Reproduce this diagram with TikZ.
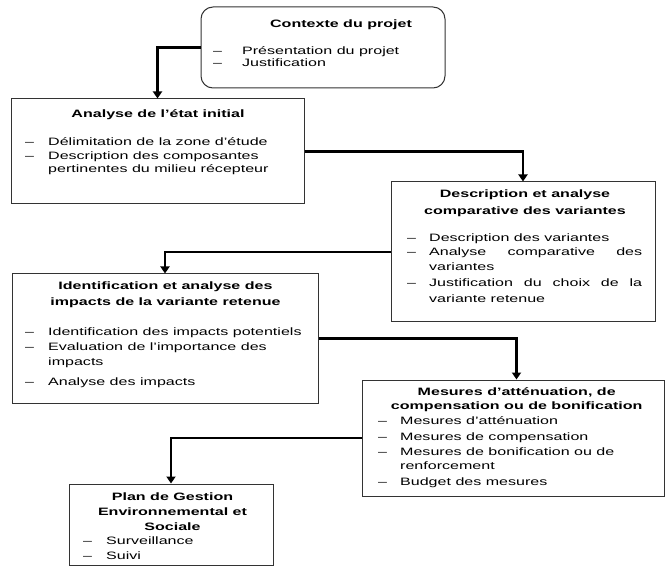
\documentclass[tikz,border=0pt]{standalone}
\usepackage{fontspec}
\setmainfont{Liberation Sans}[FakeStretch=1.5]
\usetikzlibrary{arrows.meta}
\begin{document}
\begin{tikzpicture}[x=1pt,y=-1pt,
  box/.style={draw=black!80, line width=1pt, inner sep=0pt, fill=white},
  txt/.style={inner sep=0pt, font=\fontsize{10.7}{13}\selectfont},
  ttl/.style={txt, anchor=mid, font=\fontsize{10.7}{13}\selectfont\bfseries},
  itm/.style={txt, anchor=mid west},
  conn/.style={line width=2.6pt, line join=miter, -{Triangle[width=9pt,length=7pt]}}]
\useasboundingbox (0,0) rectangle (665,567);
% boxes
\node[box, rounded corners=12pt, minimum width=244pt, minimum height=81pt] (ctx) at (323,47.5) {};
\node[box, minimum width=293pt, minimum height=105pt] (ana) at (157.5,151.5) {};
\node[box, minimum width=264pt, minimum height=140pt] (var) at (523,252) {};
\node[box, minimum width=306pt, minimum height=129pt] (imp) at (165,338.5) {};
\node[box, minimum width=302pt, minimum height=116pt] (mes) at (513,438) {};
\node[box, minimum width=204pt, minimum height=81pt] (pges) at (171,524.5) {};
% connectors
\draw[conn] (ctx.west) -| (ana.north);
\draw[conn] (ana.east) -| (var.north);
\draw[conn] (var.west) -| (imp.north);
\draw[conn] (imp.east) -| ([xshift=3.5pt]mes.north);
\draw[conn] (mes.west) -| (pges.north);
% box 1
\node[ttl] (ctxT) at (341,25) {Contexte du projet};
\node[itm] (ctxA) at (213,52) {\makebox[29pt][l]{–}Présentation du projet};
\node[itm] (ctxB) at (213,64) {\makebox[29pt][l]{–}Justification};
% box 2
\node[ttl] (anaT) at (158,114.5) {Analyse de l’état initial};
\node[itm] (anaA) at (25,143.3) {\makebox[23pt][l]{–}Délimitation de la zone d’étude};
\node[itm] (anaB) at (25,157) {\makebox[23pt][l]{–}Description des composantes};
\node[itm] (anaC) at (48,170) {pertinentes du milieu récepteur};
% box 3
\node[ttl] (varT1) at (525,195) {Description et analyse};
\node[ttl] (varT2) at (525,211.7) {comparative des variantes};
\node[itm] (varA) at (407,239.3) {\makebox[22pt][l]{–}Description des variantes};
\node[itm] (varB) at (407,253.3) {\makebox[22pt][l]{–}\hbox to 213pt{Analyse\hfill comparative\hfill des}};
\node[itm] (varC) at (429,268.3) {variantes};
\node[itm] (varD) at (407,284) {\makebox[22pt][l]{–}\hbox to 213pt{Justification\hfill du\hfill choix\hfill de\hfill la}};
\node[itm] (varE) at (429,300) {variante retenue};
% box 4
\node[ttl] (impT1) at (165.5,287.3) {Identification et analyse des};
\node[ttl] (impT2) at (165.5,302.7) {impacts de la variante retenue};
\node[itm] (impA) at (25,332.7) {\makebox[23pt][l]{–}Identification des impacts potentiels};
\node[itm] (impB) at (25,348.3) {\makebox[23pt][l]{–}Evaluation de l’importance des};
\node[itm] (impC) at (48,362.7) {impacts};
\node[itm] (impD) at (25,383.3) {\makebox[23pt][l]{–}Analyse des impacts};
% box 5
\node[ttl] (mesT1) at (516.7,393) {Mesures d’atténuation, de};
\node[ttl] (mesT2) at (516.7,407.3) {compensation ou de bonification};
\node[itm] (mesA) at (378,421.7) {\makebox[22pt][l]{–}Mesures d’atténuation};
\node[itm] (mesB) at (378,437.7) {\makebox[22pt][l]{–}Mesures de compensation};
\node[itm] (mesC) at (378,452.7) {\makebox[22pt][l]{–}Mesures de bonification ou de};
\node[itm] (mesD) at (400,467.3) {renforcement};
\node[itm] (mesE) at (378,483.3) {\makebox[22pt][l]{–}Budget des mesures};
% box 6
\node[ttl] (pgT1) at (172.5,497.7) {Plan de Gestion};
\node[ttl] (pgT2) at (172.5,513.3) {Environnemental et};
\node[ttl] (pgT3) at (172.5,527.7) {Sociale};
\node[itm] (pgA) at (83,542.3) {\makebox[23pt][l]{–}Surveillance};
\node[itm] (pgB) at (83,556.7) {\makebox[23pt][l]{–}Suivi};
\end{tikzpicture}
\end{document}
